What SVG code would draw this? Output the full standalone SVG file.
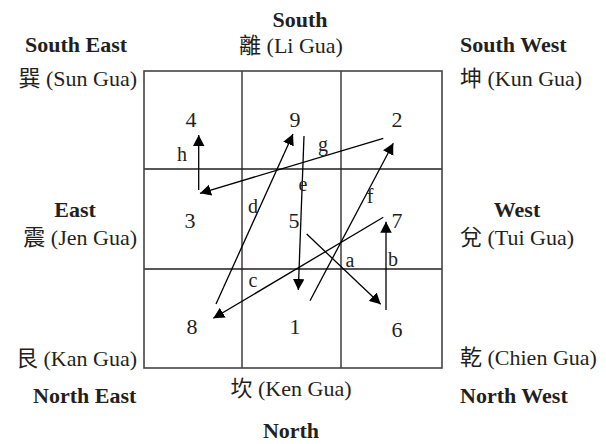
<svg xmlns="http://www.w3.org/2000/svg" width="606" height="444" viewBox="0 0 606 444">
<style>
text{font-family:"Liberation Serif","Noto Sans CJK TC",serif;fill:#231f20;font-size:22px}
.b{font-weight:bold}
.c{text-anchor:middle}
.e{text-anchor:end}
.l{font-size:20px;text-anchor:middle}
.grid{fill:none;stroke:#231f20;stroke-width:1.3}
.out{fill:none;stroke:#444;stroke-width:1.6}
.arr{stroke:#000;stroke-width:1.3;fill:none;marker-end:url(#ah)}
</style>
<defs>
<marker id="ah" viewBox="0 0 12 12" refX="11" refY="5.75" markerWidth="12" markerHeight="12" markerUnits="userSpaceOnUse" orient="auto">
<path d="M0,0 L11,5.75 L0,11.5 z" fill="#000"/>
</marker>
</defs>
<rect width="606" height="444" fill="#fff"/>

<g id="grid">
<path class="grid" d="M242,71 V368 M341,71 V368 M144,169 H442 M144,269 H442"/>
<rect class="out" x="144" y="71" width="298" height="297"/>
</g>

<g id="directions">
<text class="b c" x="300" y="27">South</text>
<text class="c" x="291" y="53">離 (Li Gua)</text>
<text class="b" x="25" y="52">South East</text>
<text class="e" x="137" y="86">巽 (Sun Gua)</text>
<text class="b" x="460" y="52">South West</text>
<text x="460" y="86">坤 (Kun Gua)</text>
<text class="b c" x="75" y="217">East</text>
<text class="e" x="137" y="245">震 (Jen Gua)</text>
<text class="b c" x="517" y="217">West</text>
<text x="460" y="245">兌 (Tui Gua)</text>
<text class="e" x="137" y="366">艮 (Kan Gua)</text>
<text x="460" y="365">乾 (Chien Gua)</text>
<text class="b" x="33" y="403">North East</text>
<text class="b" x="460" y="403">North West</text>
<text class="c" x="291" y="396">坎 (Ken Gua)</text>
<text class="b c" x="291" y="438">North</text>
</g>

<g id="n4"><text class="c" x="191" y="127">4</text></g>
<g id="n9"><text class="c" x="295" y="127">9</text></g>
<g id="n2"><text class="c" x="397" y="127">2</text></g>
<g id="n3"><text class="c" x="190" y="228">3</text></g>
<g id="n5"><text class="c" x="294" y="228">5</text></g>
<g id="n7"><text class="c" x="397" y="228">7</text></g>
<g id="n8"><text class="c" x="192" y="334">8</text></g>
<g id="n1"><text class="c" x="295" y="334">1</text></g>
<g id="n6"><text class="c" x="397" y="337">6</text></g>

<g id="connectors">
<line class="arr" x1="306.7" y1="234" x2="380.7" y2="304.3"/>
<line class="arr" x1="386" y1="310" x2="386" y2="221.7"/>
<line class="arr" x1="383.3" y1="217.3" x2="213.3" y2="318.3"/>
<line class="arr" x1="216" y1="304" x2="293" y2="134"/>
<line class="arr" x1="304" y1="136" x2="298.3" y2="290"/>
<line class="arr" x1="310" y1="300.7" x2="393.3" y2="143.3"/>
<line class="arr" x1="383.3" y1="138.3" x2="200" y2="193.3"/>
<line class="arr" x1="198.7" y1="190" x2="198.7" y2="135"/>
<text class="l" x="350" y="267">a</text>
<text class="l" x="393" y="266">b</text>
<text class="l" x="253" y="287">c</text>
<text class="l" x="253" y="213">d</text>
<text class="l" x="303" y="191">e</text>
<text class="l" x="370" y="203">f</text>
<text class="l" x="323" y="151">g</text>
<text class="l" x="182" y="161">h</text>
</g>
</svg>
